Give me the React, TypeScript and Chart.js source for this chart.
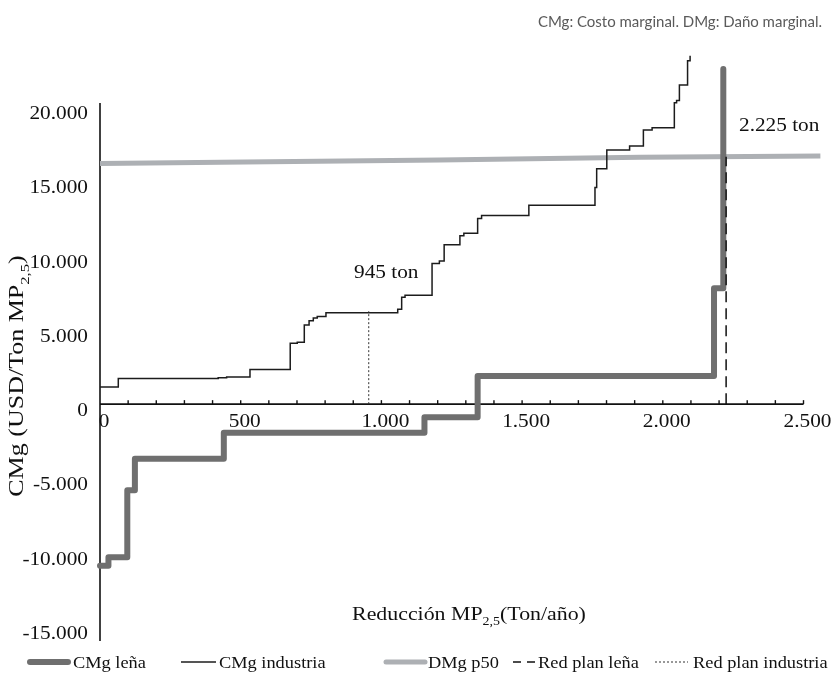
import React, { useEffect, useRef } from 'react';
import { Chart, registerables } from 'chart.js';

Chart.register(...registerables);

// ---- data ----
const lenaX = [0, 30, 97, 124, 440, 1153, 1342, 2182, 2215];
const lenaY = [-10870, -10300, -5800, -3670, -1920, -890, 1900, 7800, 22560];

const industriaX = [0, 65, 420, 450, 533, 676, 701, 726, 743, 758, 772, 803, 1058, 1072, 1084, 1180, 1206, 1223, 1279, 1293, 1342, 1356, 1524, 1759, 1765, 1801, 1882, 1931, 1962, 2041, 2049, 2059, 2088, 2097];
const industriaY = [1150, 1720, 1770, 1830, 2340, 4100, 4160, 5330, 5620, 5800, 5900, 6150, 6380, 7190, 7330, 9460, 9640, 10730, 11340, 11500, 12500, 12690, 13380, 14580, 15850, 17110, 17380, 18460, 18610, 20280, 20430, 21480, 23120, 23450];

const dmgX = [0, 1208, 1919, 2560];
const dmgY = [16200, 16430, 16610, 16700];

const planLenaX = [2225, 2225];
const planLenaY = [0, 16650];
const planIndX = [955, 955];
const planIndY = [0, 6250];

const xTickValues = [0, 500, 1000, 1500, 2000, 2500];
const xTickLabels = ['0', '500', '1.000', '1.500', '2.000', '2.500'];
const xMinorStep = 100;
const yTickValues = [-15000, -10000, -5000, 0, 5000, 10000, 15000, 20000];
const yTickLabels = ['-15.000', '-10.000', '-5.000', '0', '5.000', '10.000', '15.000', '20.000'];

const seriesNames = ['CMg leña', 'CMg industria', 'DMg p50', 'Red plan leña', 'Red plan industria'];

const SERIF = '"Liberation Serif", "Times New Roman", serif';
const SANS = 'Lato, "Noto Sans", sans-serif';
const STRETCH = 1.12;

type Part = { t: string; sub?: boolean };

function drawRich(
  ctx: CanvasRenderingContext2D,
  parts: Part[],
  x: number,
  y: number,
  size: number,
  align: 'left' | 'center' | 'right',
  opts: { stretch?: number; angle?: number; family?: string; color?: string } = {}
) {
  const stretch = opts.stretch ?? STRETCH;
  const family = opts.family ?? SERIF;
  ctx.save();
  ctx.translate(x, y);
  if (opts.angle) ctx.rotate(opts.angle);
  ctx.scale(stretch, 1);
  ctx.fillStyle = opts.color ?? '#111';
  ctx.textBaseline = 'alphabetic';
  ctx.textAlign = 'left';
  let total = 0;
  const widths = parts.map((p) => {
    ctx.font = `${p.sub ? size * 0.64 : size}px ${family}`;
    const w = ctx.measureText(p.t).width;
    total += w;
    return w;
  });
  let cx = align === 'center' ? -total / 2 : align === 'right' ? -total : 0;
  parts.forEach((p, i) => {
    ctx.font = `${p.sub ? size * 0.64 : size}px ${family}`;
    ctx.fillText(p.t, cx, p.sub ? size * 0.28 : 0);
    cx += widths[i];
  });
  ctx.restore();
  return total * stretch;
}

const toPoints = (xs: number[], ys: number[]) => xs.map((x, i) => ({ x, y: ys[i] }));

const decorPlugin = {
  id: 'decor',
  beforeDatasetsDraw(chart: any) {
    const ctx: CanvasRenderingContext2D = chart.ctx;
    const xs = chart.scales.x;
    const ys = chart.scales.y;
    const y0 = ys.getPixelForValue(0);
    const x0 = xs.getPixelForValue(0);
    ctx.save();
    ctx.strokeStyle = '#111';
    ctx.lineWidth = 1.6;
    // y axis
    ctx.beginPath();
    ctx.moveTo(x0, ys.getPixelForValue(ys.max) - 4);
    ctx.lineTo(x0, ys.getPixelForValue(ys.min) + 14);
    ctx.stroke();
    // x axis
    ctx.beginPath();
    ctx.moveTo(x0, y0);
    ctx.lineTo(xs.getPixelForValue(xs.max), y0);
    ctx.stroke();
    // minor ticks (inside)
    ctx.lineWidth = 1.4;
    for (let v = xMinorStep; v <= xs.max; v += xMinorStep) {
      const px = xs.getPixelForValue(v);
      ctx.beginPath();
      ctx.moveTo(px, y0);
      ctx.lineTo(px, y0 - 4);
      ctx.stroke();
    }
    ctx.restore();
  },
  afterDraw(chart: any) {
    const ctx: CanvasRenderingContext2D = chart.ctx;
    const xs = chart.scales.x;
    const ys = chart.scales.y;
    const y0 = ys.getPixelForValue(0);
    const x0 = xs.getPixelForValue(0);

    // y tick labels
    yTickValues.forEach((v, i) => {
      drawRich(ctx, [{ t: yTickLabels[i] }], x0 - 12, ys.getPixelForValue(v) + 12, 19, 'right');
    });
    // x tick labels
    xTickValues.forEach((v, i) => {
      drawRich(ctx, [{ t: xTickLabels[i] }], xs.getPixelForValue(v) + 4, y0 + 23, 19, 'center');
    });

    // axis titles
    drawRich(ctx, [{ t: 'Reducción MP' }, { t: '2,5', sub: true }, { t: '(Ton/año)' }], 469, 620, 19, 'center', { stretch: 1.15 });
    drawRich(ctx, [{ t: 'CMg (USD/Ton MP' }, { t: '2,5', sub: true }, { t: ')' }], 23, 376, 20, 'center', { angle: -Math.PI / 2, stretch: 1.3 });

    // annotations
    drawRich(ctx, [{ t: '945 ton' }], 354, 278, 19, 'left');
    drawRich(ctx, [{ t: '2.225 ton' }], 739, 131, 19, 'left');

    // top note
    drawRich(ctx, [{ t: 'CMg: Costo marginal. DMg: Daño marginal.' }], 822, 27, 15, 'right', { stretch: 1, family: SANS, color: '#5a5a5a' });

    // legend
    const ly = 662;
    const items = [
      { ds: 0, x1: 30, x2: 68, tx: 73, dash: [] as number[] },
      { ds: 1, x1: 181, x2: 216, tx: 219, dash: [] as number[] },
      { ds: 2, x1: 386, x2: 425, tx: 428, dash: [] as number[] },
      { ds: 3, x1: 513, x2: 535, tx: 538, dash: [8, 6] },
      { ds: 4, x1: 655, x2: 688, tx: 693, dash: [2, 2] },
    ];
    items.forEach((it) => {
      const ds = chart.data.datasets[it.ds];
      ctx.save();
      ctx.strokeStyle = ds.borderColor;
      ctx.lineWidth = ds.borderWidth;
      ctx.lineCap = it.ds === 0 || it.ds === 2 ? 'round' : 'butt';
      ctx.setLineDash(it.dash);
      ctx.beginPath();
      ctx.moveTo(it.x1, ly);
      ctx.lineTo(it.x2, ly);
      ctx.stroke();
      ctx.restore();
      drawRich(ctx, [{ t: seriesNames[it.ds] }], it.tx, ly + 6, 17, 'left', { stretch: 1.08 });
    });
  },
};

export default function App() {
  const ref = useRef<HTMLCanvasElement | null>(null);
  useEffect(() => {
    if (!ref.current) return;
    const chart = new Chart(ref.current, {
      type: 'line',
      data: {
        datasets: [
          {
            label: seriesNames[0],
            data: toPoints(lenaX, lenaY),
            borderColor: '#6f6f6f',
            borderWidth: 6,
            stepped: 'before',
            borderCapStyle: 'round',
            borderJoinStyle: 'round',
            pointRadius: 0,
            clip: false,
            order: 2,
          },
          {
            label: seriesNames[1],
            data: toPoints(industriaX, industriaY),
            borderColor: '#1c1c1c',
            borderWidth: 1.5,
            stepped: 'before',
            pointRadius: 0,
            clip: false,
            order: 1,
          },
          {
            label: seriesNames[2],
            data: toPoints(dmgX, dmgY),
            borderColor: '#adb0b4',
            borderWidth: 5,
            pointRadius: 0,
            clip: false,
            order: 5,
          },
          {
            label: seriesNames[3],
            data: toPoints(planLenaX, planLenaY),
            borderColor: '#111',
            borderWidth: 1.5,
            borderDash: [11, 6],
            pointRadius: 0,
            clip: false,
            order: 0,
          },
          {
            label: seriesNames[4],
            data: toPoints(planIndX, planIndY),
            borderColor: '#333',
            borderWidth: 1,
            borderDash: [2, 2],
            pointRadius: 0,
            clip: false,
            order: 0,
          },
        ],
      },
      options: {
        responsive: false,
        animation: false,
        devicePixelRatio: 1,
        layout: { padding: { left: 100, right: 29.5, top: 107, bottom: 55 } },
        scales: {
          x: { type: 'linear', min: 0, max: 2500, display: false },
          y: { type: 'linear', min: -15000, max: 20000, display: false },
        },
        plugins: { legend: { display: false }, tooltip: { enabled: false } },
        events: [],
      },
      plugins: [decorPlugin],
    } as any);
    return () => chart.destroy();
  }, []);
  return (
    <div style={{ position: 'fixed', left: 0, top: 0, width: 833, height: 682, background: '#fff' }}>
      <canvas ref={ref} width={833} height={682} />
    </div>
  );
}
